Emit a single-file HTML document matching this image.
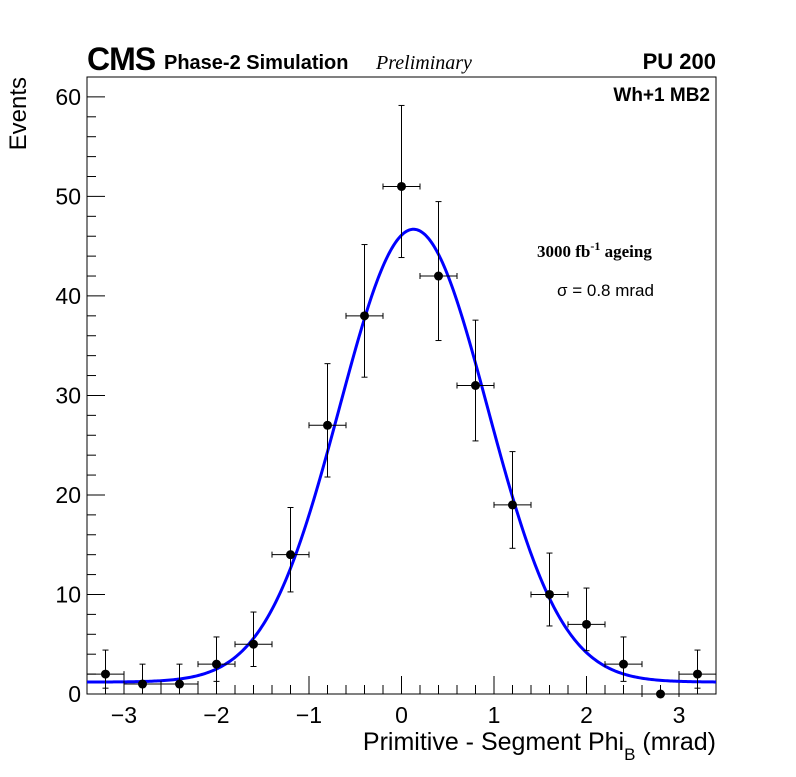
<!DOCTYPE html>
<html><head><meta charset="utf-8"><style>
body{margin:0;background:#fff}
svg{font-family:"Liberation Sans",sans-serif}
</style></head><body>
<svg id="c" width="796" height="772"></svg>
<script>
const xCenters=[-3.2,-2.8,-2.4,-2.0,-1.6,-1.2,-0.8,-0.4,0,0.4,0.8,1.2,1.6,2.0,2.4,2.8,3.2];
const counts=[2,1,1,3,5,14,27,38,51,42,31,19,10,7,3,0,2];
const fitParams=[1.2,45.5,0.13,0.8];
const xTicks=[-3,-2,-1,0,1,2,3];
const xTickLabels=["\u22123","\u22122","\u22121","0","1","2","3"];
const yTicks=[0,10,20,30,40,50,60];
const L=87,R=716,T=77,B=694,XMIN=-3.4,XMAX=3.4,YMAX=62;
const sx=v=>L+(v-XMIN)/(XMAX-XMIN)*(R-L);
const sy=v=>B-v/YMAX*(B-T);
const svg=document.getElementById('c');
const NS='http://www.w3.org/2000/svg';
function el(t,a,txt){const e=document.createElementNS(NS,t);for(const k in a)e.setAttribute(k,a[k]);if(txt!==undefined)e.textContent=txt;svg.appendChild(e);return e;}
let e=el('rect',{x:L,y:T,width:R-L,height:B-T,fill:'none',stroke:'#000','stroke-width':1});

for(let v=-3.4;v<=3.41;v+=0.2){const big=Math.abs(v-Math.round(v))<1e-6;const x=sx(v);
 const t=el('line',{x1:x,x2:x,y1:B,y2:B-(big?18:9),stroke:'#000'});}
xTicks.forEach((v,i)=>{const t=el('text',{x:sx(v),y:B+29,'font-size':23,'text-anchor':'middle'},xTickLabels[i]);});
for(let v=0;v<=YMAX;v+=2){const big=v%10===0;const y=sy(v);
 const t=el('line',{x1:L,x2:L+(big?18:9),y1:y,y2:y,stroke:'#000'});}
yTicks.forEach(v=>{const t=el('text',{x:L-6,y:sy(v)+8,'font-size':23,'text-anchor':'end'},String(v));});
let d='';for(let i=0;i<=400;i++){const x=XMIN+(XMAX-XMIN)*i/400;const y=fitParams[0]+fitParams[1]*Math.exp(-Math.pow(x-fitParams[2],2)/(2*fitParams[3]*fitParams[3]));d+=(i?'L':'M')+sx(x).toFixed(2)+' '+sy(y).toFixed(2);}
e=el('path',{d:d,fill:'none',stroke:'#0000ff','stroke-width':3});
xCenters.forEach((xc,i)=>{const n=counts[i];const cx=sx(xc),cy=sy(n);
 const s=Math.sqrt(n);const hi=n+s+1,lo=Math.max(0,n-s);
 let g=el('line',{x1:sx(xc-0.2),x2:sx(xc+0.2),y1:cy,y2:cy,stroke:'#000'});
 [xc-0.2,xc+0.2].forEach(xx=>{g=el('line',{x1:sx(xx),x2:sx(xx),y1:cy-3,y2:cy+3,stroke:'#000'});});
 if(n>0){g=el('line',{x1:cx,x2:cx,y1:sy(hi),y2:sy(lo),stroke:'#000'});
 [hi,lo].forEach(v=>{g=el('line',{x1:cx-3,x2:cx+3,y1:sy(v),y2:sy(v),stroke:'#000'});});}
 g=el('circle',{cx:cx,cy:cy,r:4.5,fill:'#000'});
});
e=el('text',{x:87,y:70,'font-size':32,'font-weight':'bold','letter-spacing':-1},'CMS');
e=el('text',{x:164,y:69,'font-size':20,'font-weight':'bold'},'Phase-2 Simulation');
e=el('text',{x:376,y:69,'font-size':20,'font-style':'italic','font-family':'Liberation Serif,serif'},'Preliminary');
e=el('text',{x:716,y:69,'font-size':22,'font-weight':'bold','text-anchor':'end'},'PU 200');
e=el('text',{x:710,y:101,'font-size':19,'font-weight':'bold','text-anchor':'end'},'Wh+1 MB2');
e=el('text',{x:537,y:257,'font-size':17,'font-weight':'bold','font-family':'Liberation Serif,serif'});e.innerHTML='3000 fb<tspan dy="-7" font-size="12">-1</tspan><tspan dy="7"> ageing</tspan>';
e=el('text',{x:557,y:296,'font-size':17},'\u03c3 = 0.8 mrad');
e=el('text',{x:716,y:750,'font-size':25,'text-anchor':'end'});e.innerHTML='Primitive - Segment Phi<tspan dy="10" font-size="17">B</tspan><tspan dy="-10"> (mrad)</tspan>';
e=el('text',{x:0,y:0,'font-size':24,'text-anchor':'end',transform:'translate(26,77) rotate(-90)'},'Events');
</script>
</body></html>
